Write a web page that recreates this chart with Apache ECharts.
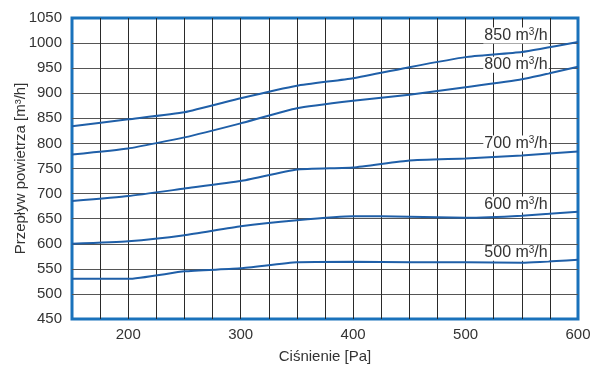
<!DOCTYPE html>
<html>
<head>
<meta charset="utf-8">
<script src="https://cdn.jsdelivr.net/npm/echarts@6/dist/echarts.min.js"></script>
<style>
html,body{margin:0;padding:0;background:#fff;}
#chart{width:598px;height:365px;}
</style>
</head>
<body>
<div id="chart"></div>
<script>
// Pressure points [Pa]
const pressure = [150, 200, 250, 300, 350, 400, 450, 500, 550, 600];

// Airflow curves [m³/h] for each fan setting
const flow850 = [834, 848, 862, 890, 915, 930, 952, 972, 982, 1002];
const flow800 = [778, 790, 812, 840, 870, 885, 897, 912, 928, 953];
const flow700 = [685, 695, 710, 725, 748, 752, 766, 770, 776, 784];
const flow600 = [600, 605, 617, 635, 647, 655, 654, 652, 656, 664];
const flow500 = [530, 530, 545, 551, 563, 564, 563, 563, 562, 568];

const curveNames = ['850', '800', '700', '600', '500'];
const curves = [flow850, flow800, flow700, flow600, flow500];
// Where each curve's name sits [Pa, m³/h]
const labelAnchors = [[574, 1015], [574, 957], [574, 800], [574, 678], [574, 582]];

const textColor = '#333';
const lineColor = '#1f5fa8';
const frameColor = '#1a72bb';
const font = 'Liberation Sans, Arial, sans-serif';

const series = curves.map((vals, i) => ({
  type: 'line',
  name: curveNames[i] + ' m³/h',
  data: pressure.map((p, j) => [p, vals[j]]),
  symbol: 'none',
  smooth: 0.15,
  lineStyle: { color: lineColor, width: 2 },
  z: 3,
  markPoint: {
    symbol: 'rect',
    symbolSize: 0.1,
    silent: true,
    data: [{ coord: labelAnchors[i] }],
    label: {
      show: true,
      position: 'left',
      distance: 0,
      formatter: curveNames[i] + ' m{sup|3}/h',
      color: textColor,
      fontSize: 16,
      fontFamily: font,
      backgroundColor: '#fff',
      padding: [0, 1, 0, 1],
      rich: {
        sup: { fontSize: 10, verticalAlign: 'top', color: textColor, fontFamily: font, padding: [0, 0, 6, 0] }
      }
    }
  }
}));

const chart = echarts.init(document.getElementById('chart'));
chart.setOption({
  animation: false,
  backgroundColor: '#fff',
  grid: {
    left: 72, right: 20, top: 18, bottom: 46,
    containLabel: false,
    outerBoundsMode: 'none',
    show: true, borderColor: frameColor, borderWidth: 3, backgroundColor: 'transparent'
  },
  xAxis: {
    type: 'value',
    min: 150, max: 600, interval: 25,
    name: 'Ciśnienie [Pa]',
    nameLocation: 'middle',
    nameGap: 30,
    nameTextStyle: { color: textColor, fontSize: 15, fontFamily: font },
    axisLine: { show: false },
    axisTick: { show: false },
    axisLabel: {
      color: textColor, fontSize: 15, margin: 8, fontFamily: font,
      formatter: v => (v % 100 === 0 ? String(v) : '')
    },
    splitLine: { show: true, showMinLine: false, showMaxLine: false, lineStyle: { color: '#2a2a2a', width: 1 } }
  },
  yAxis: {
    type: 'value',
    min: 450, max: 1050, interval: 50,
    name: 'Przepływ powietrza [m³/h]',
    nameLocation: 'middle',
    nameGap: 44,
    nameMoveOverlap: false,
    nameTextStyle: { color: textColor, fontSize: 15, fontFamily: font },
    axisLine: { show: false },
    axisTick: { show: false },
    axisLabel: {
      color: textColor, fontSize: 15, margin: 10, fontFamily: font,
      formatter: v => String(v)
    },
    splitLine: { show: true, showMinLine: false, showMaxLine: false, lineStyle: { color: '#555', width: 1 } }
  },
  series: series
});
</script>
</body>
</html>
